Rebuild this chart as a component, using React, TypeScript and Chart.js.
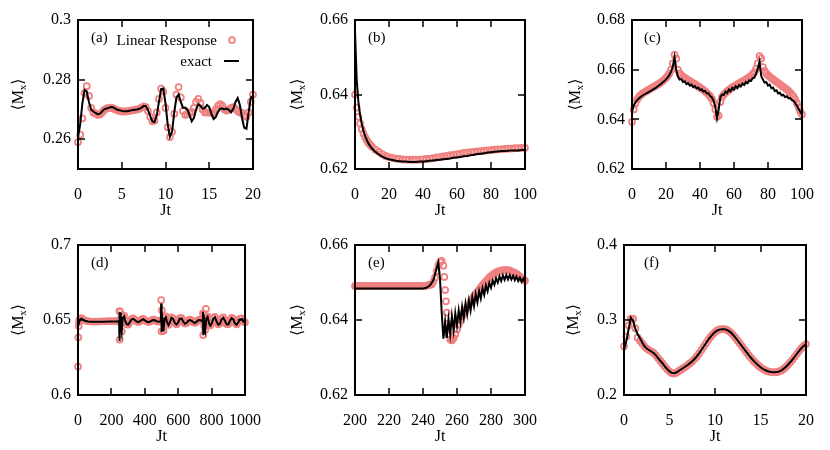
import React, { useEffect, useRef } from "react";
import { Chart, registerables } from "chart.js";
Chart.register(...registerables);

const FONT = "'Liberation Serif', 'Times New Roman', 'DejaVu Serif', serif";
const PINK = "#f08080";

// ---------- shared time grids ----------
const t20 = [
  0, 0.25, 0.5, 0.75, 1, 1.25, 1.5, 1.75, 2, 2.25, 2.5, 2.75, 3, 3.25, 3.5, 3.75,
  4, 4.25, 4.5, 4.75, 5, 5.25, 5.5, 5.75, 6, 6.25, 6.5, 6.75, 7, 7.25, 7.5, 7.75,
  8, 8.25, 8.5, 8.75, 9, 9.25, 9.5, 9.75, 10, 10.25, 10.5, 10.75, 11, 11.25, 11.5, 11.75,
  12, 12.25, 12.5, 12.75, 13, 13.25, 13.5, 13.75, 14, 14.25, 14.5, 14.75, 15, 15.25, 15.5, 15.75,
  16, 16.25, 16.5, 16.75, 17, 17.25, 17.5, 17.75, 18, 18.25, 18.5, 18.75, 19, 19.25, 19.5, 19.75, 20,
];
const t100 = [
  0, 1, 2, 3, 4, 5, 6, 7, 8, 9, 10, 11, 12, 13, 14, 15, 16, 17, 18, 19,
  20, 21, 22, 23, 24, 25, 26, 27, 28, 29, 30, 31, 32, 33, 34, 35, 36, 37, 38, 39,
  40, 41, 42, 43, 44, 45, 46, 47, 48, 49, 50, 51, 52, 53, 54, 55, 56, 57, 58, 59,
  60, 61, 62, 63, 64, 65, 66, 67, 68, 69, 70, 71, 72, 73, 74, 75, 76, 77, 78, 79,
  80, 81, 82, 83, 84, 85, 86, 87, 88, 89, 90, 91, 92, 93, 94, 95, 96, 97, 98, 99, 100,
];

// ---------- panel (a) ----------
const aExact = [
  0.2605, 0.2650, 0.2720, 0.2765, 0.2760, 0.2725, 0.2700, 0.2693,
  0.2688, 0.2684, 0.2685, 0.2693, 0.2700, 0.2703, 0.2705, 0.2708,
  0.2707, 0.2703, 0.2699, 0.2697, 0.2695, 0.2694, 0.2694, 0.2695,
  0.2696, 0.2698, 0.2699, 0.2700, 0.2702, 0.2706, 0.2711, 0.2711,
  0.2698, 0.2678, 0.2660, 0.2658, 0.2680, 0.2725, 0.2768, 0.2770,
  0.2720, 0.2650, 0.2608, 0.2625, 0.2690, 0.2740, 0.2750, 0.2725,
  0.2705, 0.2706, 0.2700, 0.2680, 0.2660, 0.2672, 0.2700, 0.2717,
  0.2712, 0.2702, 0.2705, 0.2715, 0.2708, 0.2685, 0.2668, 0.2675,
  0.2692, 0.2702, 0.2703, 0.2700, 0.2703, 0.2698, 0.2690, 0.2702,
  0.2725, 0.2738, 0.2715, 0.2670, 0.2638, 0.2635, 0.2690, 0.2740,
  0.2745,
];
const aLR = [
  0.2590, 0.2615, 0.2670, 0.2755, 0.2778, 0.2745, 0.2705, 0.2690,
  0.2686, 0.2682, 0.2683, 0.2690, 0.2698, 0.2703, 0.2705, 0.2706,
  0.2704, 0.2700, 0.2697, 0.2695, 0.2693, 0.2693, 0.2693, 0.2694,
  0.2696, 0.2697, 0.2698, 0.2700, 0.2702, 0.2706, 0.2710, 0.2708,
  0.2695, 0.2675, 0.2660, 0.2663, 0.2690, 0.2735, 0.2770, 0.2760,
  0.2705, 0.2640, 0.2607, 0.2625, 0.2685, 0.2750, 0.2775, 0.2740,
  0.2695, 0.2682, 0.2683, 0.2687, 0.2692, 0.2705, 0.2725, 0.2735,
  0.2722, 0.2700, 0.2690, 0.2690, 0.2690, 0.2688, 0.2690, 0.2700,
  0.2712, 0.2718, 0.2712, 0.2700, 0.2696, 0.2700, 0.2705, 0.2708,
  0.2702, 0.2695, 0.2690, 0.2688, 0.2680, 0.2675, 0.2690, 0.2725,
  0.2750,
];
const aXTicks = [0, 5, 10, 15, 20];
const aYTicks = [0.26, 0.28, 0.3];

// ---------- panel (b) ----------
const bT = [
  0, 1, 2, 3, 4, 5, 6, 7, 8, 9, 10,
  12, 14, 16, 18, 20, 22, 24, 26, 28, 30,
  32, 34, 36, 38, 40, 42, 44, 46, 48, 50,
  52, 54, 56, 58, 60, 62, 64, 66, 68, 70,
  72, 74, 76, 78, 80, 82, 84, 86, 88, 90,
  92, 94, 96, 98, 100,
];
const bExact = [
  0.6570, 0.6440, 0.6380, 0.6345, 0.6320, 0.6302, 0.6288, 0.6277, 0.6268, 0.6261, 0.6255,
  0.6246, 0.6239, 0.6233, 0.6229, 0.6226, 0.6224, 0.6222, 0.6221, 0.6220, 0.6220,
  0.6219, 0.6219, 0.6219, 0.6220, 0.6220, 0.6221, 0.6222, 0.6223, 0.6224, 0.6225,
  0.6226, 0.6227, 0.6228, 0.6230, 0.6231, 0.6232, 0.6234, 0.6235, 0.6237, 0.6238,
  0.6240, 0.6241, 0.6242, 0.6244, 0.6245, 0.6246, 0.6247, 0.6248, 0.6248, 0.6249,
  0.6250, 0.6250, 0.6250, 0.6251, 0.6251,
];
const bLR = [
  0.6400, 0.6365, 0.6340, 0.6322, 0.6307, 0.6295, 0.6285, 0.6277, 0.6270, 0.6265, 0.6260,
  0.6252, 0.6246, 0.6240, 0.6235, 0.6232, 0.6230, 0.6228, 0.6227, 0.6226, 0.6225,
  0.6225, 0.6225, 0.6225, 0.6225, 0.6226, 0.6227, 0.6228, 0.6229, 0.6231, 0.6232,
  0.6234, 0.6235, 0.6237, 0.6238, 0.6240, 0.6241, 0.6243, 0.6244, 0.6245, 0.6246,
  0.6247, 0.6248, 0.6249, 0.6250, 0.6251, 0.6252, 0.6253, 0.6253, 0.6254, 0.6255,
  0.6255, 0.6256, 0.6256, 0.6257, 0.6257,
];
const bXTicks = [0, 20, 40, 60, 80, 100];
const bYTicks = [0.62, 0.64, 0.66];

// ---------- panel (c) ----------
const cExact = [
  0.6430, 0.6455, 0.6468, 0.6477, 0.6484, 0.6490, 0.6495, 0.6499, 0.6503, 0.6507,
  0.6511, 0.6515, 0.6519, 0.6523, 0.6527, 0.6532, 0.6537, 0.6542, 0.6548, 0.6554,
  0.6561, 0.6569, 0.6579, 0.6592, 0.6612, 0.6650, 0.6600, 0.6572, 0.6560, 0.6562,
  0.6550, 0.6553, 0.6542, 0.6546, 0.6536, 0.6540, 0.6530, 0.6534, 0.6524, 0.6528,
  0.6518, 0.6521, 0.6512, 0.6514, 0.6504, 0.6505, 0.6494, 0.6488, 0.6475, 0.6450,
  0.6405, 0.6440, 0.6490, 0.6500, 0.6498, 0.6512, 0.6506, 0.6520, 0.6513, 0.6527,
  0.6520, 0.6533, 0.6526, 0.6538, 0.6532, 0.6544, 0.6538, 0.6550, 0.6545, 0.6557,
  0.6554, 0.6566, 0.6568, 0.6585, 0.6605, 0.6632, 0.6575, 0.6560, 0.6548, 0.6550,
  0.6536, 0.6540, 0.6525, 0.6528, 0.6514, 0.6517, 0.6504, 0.6507, 0.6496, 0.6499,
  0.6490, 0.6493, 0.6485, 0.6486, 0.6478, 0.6475, 0.6466, 0.6455, 0.6442, 0.6430,
  0.6420,
];
const cLR = [
  0.6390, 0.6440, 0.6465, 0.6480, 0.6490, 0.6497, 0.6503, 0.6508, 0.6512, 0.6516,
  0.6520, 0.6524, 0.6528, 0.6532, 0.6536, 0.6540, 0.6544, 0.6549, 0.6554, 0.6560,
  0.6567, 0.6575, 0.6585, 0.6600, 0.6625, 0.6660, 0.6645, 0.6600, 0.6585, 0.6578,
  0.6572, 0.6567, 0.6563, 0.6558, 0.6554, 0.6550, 0.6546, 0.6542, 0.6537, 0.6533,
  0.6528, 0.6524, 0.6519, 0.6513, 0.6507, 0.6500, 0.6492, 0.6482, 0.6465, 0.6440,
  0.6410, 0.6415, 0.6470, 0.6490, 0.6500, 0.6507, 0.6513, 0.6519, 0.6524, 0.6529,
  0.6533, 0.6537, 0.6541, 0.6545, 0.6549, 0.6553, 0.6557, 0.6561, 0.6565, 0.6570,
  0.6575, 0.6582, 0.6590, 0.6603, 0.6625, 0.6655, 0.6645, 0.6610, 0.6595, 0.6585,
  0.6578, 0.6572, 0.6566, 0.6561, 0.6556, 0.6551, 0.6546, 0.6541, 0.6536, 0.6531,
  0.6526, 0.6521, 0.6515, 0.6508, 0.6500, 0.6491, 0.6480, 0.6465, 0.6448, 0.6432,
  0.6420,
];
const cXTicks = [0, 20, 40, 60, 80, 100];
const cYTicks = [0.62, 0.64, 0.66, 0.68];

// ---------- panel (d) ----------
const dT = [
  0, 10, 20, 30, 40, 60, 80, 100, 120, 140,
  160, 180, 200, 220, 240, 246, 248, 250, 252, 256,
  262, 268, 276, 284, 292, 300, 310, 320, 330, 340,
  350, 360, 370, 380, 390, 400, 410, 420, 430, 440,
  450, 460, 470, 480, 490, 496, 498, 500, 502, 506,
  512, 518, 526, 534, 542, 552, 560, 570, 580, 590,
  600, 610, 620, 630, 640, 650, 660, 670, 680, 690,
  700, 710, 720, 730, 740, 746, 748, 750, 752, 756,
  762, 768, 776, 784, 792, 800, 810, 820, 830, 840,
  850, 860, 870, 880, 890, 900, 910, 920, 930, 940,
  950, 960, 970, 980, 990, 1000,
];
const dExact = [
  0.6455, 0.6500, 0.6508, 0.6502, 0.6495, 0.6490, 0.6488, 0.6488, 0.6488, 0.6489,
  0.6489, 0.6490, 0.6490, 0.6490, 0.6490, 0.6495, 0.6555, 0.6360, 0.6550, 0.6470,
  0.6420, 0.6515, 0.6525, 0.6490, 0.6470, 0.6468, 0.6485, 0.6503, 0.6508, 0.6500,
  0.6490, 0.6485, 0.6490, 0.6500, 0.6505, 0.6498, 0.6490, 0.6486, 0.6488, 0.6495,
  0.6500, 0.6498, 0.6492, 0.6488, 0.6490, 0.6495, 0.6610, 0.6420, 0.6560, 0.6480,
  0.6425, 0.6510, 0.6520, 0.6480, 0.6465, 0.6490, 0.6515, 0.6508, 0.6480, 0.6470,
  0.6485, 0.6510, 0.6510, 0.6490, 0.6475, 0.6480, 0.6495, 0.6500, 0.6495, 0.6485,
  0.6480, 0.6488, 0.6498, 0.6500, 0.6495, 0.6492, 0.6555, 0.6405, 0.6540, 0.6460,
  0.6430, 0.6510, 0.6522, 0.6480, 0.6462, 0.6475, 0.6508, 0.6518, 0.6490, 0.6468,
  0.6475, 0.6505, 0.6515, 0.6495, 0.6470, 0.6470, 0.6495, 0.6512, 0.6505, 0.6478,
  0.6468, 0.6485, 0.6505, 0.6508, 0.6490, 0.6482,
];
const dLRT = [
  0, 2, 4, 6, 10, 20, 30, 40, 60, 80,
  100, 120, 140, 160, 180, 200, 220, 240, 246, 248,
  250, 252, 256, 262, 268, 276, 284, 292, 300, 310,
  320, 330, 340, 350, 360, 370, 380, 390, 400, 410,
  420, 430, 440, 450, 460, 470, 480, 490, 496, 498,
  500, 502, 506, 512, 518, 526, 534, 542, 552, 560,
  570, 580, 590, 600, 610, 620, 630, 640, 650, 660,
  670, 680, 690, 700, 710, 720, 730, 740, 746, 748,
  750, 752, 756, 762, 766, 770, 776, 784, 792, 800,
  810, 820, 830, 840, 850, 860, 870, 880, 890, 900,
  910, 920, 930, 940, 950, 960, 970, 980, 990, 1000,
];
const dLR = [
  0.6190, 0.6385, 0.6460, 0.6490, 0.6505, 0.6512, 0.6505, 0.6498, 0.6492, 0.6490,
  0.6490, 0.6490, 0.6491, 0.6491, 0.6492, 0.6492, 0.6492, 0.6492, 0.6500, 0.6560,
  0.6370, 0.6555, 0.6480, 0.6425, 0.6520, 0.6530, 0.6495, 0.6472, 0.6470, 0.6488,
  0.6506, 0.6511, 0.6503, 0.6493, 0.6487, 0.6492, 0.6503, 0.6508, 0.6500, 0.6492,
  0.6488, 0.6490, 0.6497, 0.6503, 0.6500, 0.6494, 0.6490, 0.6492, 0.6498, 0.6633,
  0.6425, 0.6565, 0.6483, 0.6428, 0.6515, 0.6524, 0.6483, 0.6468, 0.6493, 0.6518,
  0.6510, 0.6482, 0.6472, 0.6488, 0.6513, 0.6513, 0.6492, 0.6477, 0.6482, 0.6498,
  0.6503, 0.6498, 0.6487, 0.6482, 0.6490, 0.6500, 0.6503, 0.6498, 0.6495, 0.6545,
  0.6400, 0.6535, 0.6462, 0.6435, 0.6575, 0.6515, 0.6525, 0.6483, 0.6465, 0.6478,
  0.6511, 0.6521, 0.6493, 0.6471, 0.6478, 0.6508, 0.6518, 0.6498, 0.6473, 0.6473,
  0.6498, 0.6515, 0.6508, 0.6481, 0.6471, 0.6488, 0.6508, 0.6511, 0.6493, 0.6485,
];
const dXTicks = [0, 200, 400, 600, 800, 1000];
const dYTicks = [0.6, 0.65, 0.7];

// ---------- panel (e) ----------
const eT = [
  200, 205, 210, 215, 220, 225, 230, 235, 240, 242,
  244, 246, 247, 248, 249, 250, 251, 252, 253, 254,
  255, 256, 257, 258, 259, 260, 261, 262, 263, 264,
  265, 266, 267, 268, 269, 270, 271, 272, 273, 274,
  275, 276, 277, 278, 279, 280, 281, 282, 283, 284,
  285, 286, 287, 288, 289, 290, 291, 292, 293, 294,
  295, 296, 297, 298, 299, 300,
];
const eExact = [
  0.6484, 0.6484, 0.6484, 0.6484, 0.6484, 0.6484, 0.6484, 0.6484, 0.6484, 0.6486,
  0.6492, 0.6505, 0.6520, 0.6538, 0.6553, 0.6510, 0.6420, 0.6350, 0.6395, 0.6352,
  0.6402, 0.6362, 0.6410, 0.6372, 0.6418, 0.6385, 0.6426, 0.6395, 0.6435, 0.6406,
  0.6444, 0.6416, 0.6452, 0.6426, 0.6461, 0.6437, 0.6469, 0.6447, 0.6477, 0.6457,
  0.6485, 0.6467, 0.6492, 0.6477, 0.6499, 0.6486, 0.6505, 0.6494, 0.6511, 0.6500,
  0.6516, 0.6504, 0.6519, 0.6507, 0.6520, 0.6508, 0.6520, 0.6508, 0.6518, 0.6506,
  0.6516, 0.6504, 0.6513, 0.6502, 0.6510, 0.6499,
];
const eLRT = [
  200, 201, 202, 203, 204, 205, 206, 207, 208, 209,
  210, 211, 212, 213, 214, 215, 216, 217, 218, 219,
  220, 221, 222, 223, 224, 225, 226, 227, 228, 229,
  230, 231, 232, 233, 234, 235, 236, 237, 238, 239,
  240, 241, 242, 243, 244, 245, 246, 247, 248, 249,
  250, 251, 252, 252.5, 253, 253.5, 254, 254.5, 255, 256,
  257, 258, 259, 260, 261, 262, 263, 264, 265, 266,
  267, 268, 269, 270, 271, 272, 273, 274, 275, 276,
  277, 278, 279, 280, 281, 282, 283, 284, 285, 286,
  287, 288, 289, 290, 291, 292, 293, 294, 295, 296,
  297, 298, 299, 300,
];
const eLR = [
  0.6491, 0.6491, 0.6491, 0.6491, 0.6491, 0.6491, 0.6491, 0.6491, 0.6491, 0.6491,
  0.6491, 0.6491, 0.6491, 0.6491, 0.6491, 0.6491, 0.6491, 0.6491, 0.6491, 0.6491,
  0.6491, 0.6491, 0.6491, 0.6491, 0.6491, 0.6491, 0.6491, 0.6491, 0.6491, 0.6491,
  0.6491, 0.6491, 0.6491, 0.6491, 0.6491, 0.6491, 0.6491, 0.6491, 0.6491, 0.6491,
  0.6491, 0.6491, 0.6492, 0.6493, 0.6494, 0.6495, 0.6502, 0.6513, 0.6530, 0.6546,
  0.6555, 0.6558, 0.6545, 0.6515, 0.6480, 0.6450, 0.6420, 0.6390, 0.6362, 0.6348,
  0.6346, 0.6352, 0.6362, 0.6375, 0.6388, 0.6400, 0.6410, 0.6418, 0.6426, 0.6434,
  0.6441, 0.6449, 0.6456, 0.6463, 0.6469, 0.6475, 0.6481, 0.6487, 0.6493, 0.6498,
  0.6503, 0.6508, 0.6513, 0.6517, 0.6521, 0.6524, 0.6527, 0.6529, 0.6531, 0.6532,
  0.6533, 0.6533, 0.6533, 0.6533, 0.6532, 0.6530, 0.6528, 0.6526, 0.6523, 0.6520,
  0.6516, 0.6512, 0.6508, 0.6505,
];
const eXTicks = [200, 220, 240, 260, 280, 300];
const eYTicks = [0.62, 0.64, 0.66];

// ---------- panel (f) ----------
const fExact = [
  0.2600, 0.2720, 0.2870, 0.3030, 0.2990, 0.2880, 0.2810, 0.2760,
  0.2700, 0.2650, 0.2620, 0.2600, 0.2580, 0.2560, 0.2530, 0.2490,
  0.2455, 0.2420, 0.2380, 0.2345, 0.2315, 0.2295, 0.2290, 0.2300,
  0.2320, 0.2340, 0.2360, 0.2380, 0.2400, 0.2425, 0.2450, 0.2480,
  0.2515, 0.2555, 0.2600, 0.2645, 0.2690, 0.2735, 0.2775, 0.2810,
  0.2840, 0.2860, 0.2872, 0.2878, 0.2878, 0.2870, 0.2855, 0.2832,
  0.2800, 0.2765, 0.2725, 0.2685, 0.2645, 0.2605, 0.2565, 0.2525,
  0.2490, 0.2455, 0.2425, 0.2395, 0.2370, 0.2350, 0.2333, 0.2320,
  0.2310, 0.2305, 0.2303, 0.2305, 0.2312, 0.2325, 0.2345, 0.2370,
  0.2400, 0.2435, 0.2470, 0.2510, 0.2550, 0.2590, 0.2625, 0.2655,
  0.2680,
];
const fLR = [
  0.2650, 0.2780, 0.2930, 0.3020, 0.3015, 0.2890, 0.2765, 0.2725,
  0.2690, 0.2650, 0.2620, 0.2600, 0.2583, 0.2562, 0.2530, 0.2492,
  0.2455, 0.2418, 0.2378, 0.2342, 0.2312, 0.2293, 0.2288, 0.2297,
  0.2317, 0.2338, 0.2358, 0.2378, 0.2399, 0.2424, 0.2450, 0.2480,
  0.2515, 0.2555, 0.2600, 0.2645, 0.2690, 0.2735, 0.2775, 0.2810,
  0.2840, 0.2862, 0.2874, 0.2880, 0.2879, 0.2871, 0.2855, 0.2832,
  0.2800, 0.2765, 0.2725, 0.2685, 0.2645, 0.2605, 0.2565, 0.2525,
  0.2490, 0.2455, 0.2425, 0.2395, 0.2370, 0.2350, 0.2333, 0.2320,
  0.2310, 0.2305, 0.2303, 0.2305, 0.2312, 0.2325, 0.2345, 0.2370,
  0.2400, 0.2435, 0.2470, 0.2510, 0.2550, 0.2590, 0.2625, 0.2655,
  0.2680,
];
const fXTicks = [0, 5, 10, 15, 20];
const fYTicks = [0.2, 0.3, 0.4];

const panelLabels = ["(a)", "(b)", "(c)", "(d)", "(e)", "(f)"];
const legendLabels = ["Linear Response", "exact"];
const xTitle = "Jt";

type Spec = {
  label: string;
  pos: { left: number; top: number; w: number; h: number };
  area: { l: number; r: number; t: number; b: number };
  xr: [number, number];
  yr: [number, number];
  xTicks: number[];
  yTicks: number[];
  exT: number[];
  exV: number[];
  lrT: number[];
  lrV: number[];
  yTitleX: number;
  legend?: boolean;
};

const specs: Spec[] = [
  {
    label: panelLabels[0], pos: { left: 0, top: 0, w: 277, h: 225 },
    area: { l: 78, r: 256, t: 20, b: 169 }, xr: [0, 20], yr: [0.25, 0.3],
    xTicks: aXTicks, yTicks: aYTicks, exT: t20, exV: aExact, lrT: t20, lrV: aLR,
    yTitleX: 18, legend: true,
  },
  {
    label: panelLabels[1], pos: { left: 277, top: 0, w: 276, h: 225 },
    area: { l: 78, r: 254, t: 20, b: 169 }, xr: [0, 100], yr: [0.62, 0.66],
    xTicks: bXTicks, yTicks: bYTicks, exT: bT, exV: bExact, lrT: bT, lrV: bLR,
    yTitleX: 20,
  },
  {
    label: panelLabels[2], pos: { left: 553, top: 0, w: 277, h: 225 },
    area: { l: 79, r: 254, t: 20, b: 169 }, xr: [0, 100], yr: [0.62, 0.68],
    xTicks: cXTicks, yTicks: cYTicks, exT: t100, exV: cExact, lrT: t100, lrV: cLR,
    yTitleX: 22,
  },
  {
    label: panelLabels[3], pos: { left: 0, top: 225, w: 277, h: 225 },
    area: { l: 78, r: 255, t: 20, b: 170 }, xr: [0, 1000], yr: [0.6, 0.7],
    xTicks: dXTicks, yTicks: dYTicks, exT: dT, exV: dExact, lrT: dLRT, lrV: dLR,
    yTitleX: 18,
  },
  {
    label: panelLabels[4], pos: { left: 277, top: 225, w: 276, h: 225 },
    area: { l: 78, r: 254, t: 20, b: 170 }, xr: [200, 300], yr: [0.62, 0.66],
    xTicks: eXTicks, yTicks: eYTicks, exT: eT, exV: eExact, lrT: eLRT, lrV: eLR,
    yTitleX: 20,
  },
  {
    label: panelLabels[5], pos: { left: 553, top: 225, w: 277, h: 225 },
    area: { l: 71, r: 255, t: 20, b: 170 }, xr: [0, 20], yr: [0.2, 0.4],
    xTicks: fXTicks, yTicks: fYTicks, exT: t20, exV: fExact, lrT: t20, lrV: fLR,
    yTitleX: 20,
  },
];

const fmt = (v: number) => String(Number(Number(v).toFixed(4)));

function makeDecor(spec: Spec) {
  return {
    id: "decor",
    afterDraw(chart: any) {
      const { ctx, chartArea: ca, scales } = chart;
      const xs = scales.x;
      const ys = scales.y;
      ctx.save();
      ctx.strokeStyle = "#000";
      ctx.lineWidth = 1.5;
      const TL = 7;
      ctx.beginPath();
      spec.xTicks.forEach((v) => {
        const px = Math.round(xs.getPixelForValue(v));
        ctx.moveTo(px, ca.bottom);
        ctx.lineTo(px, ca.bottom - TL);
        ctx.moveTo(px, ca.top);
        ctx.lineTo(px, ca.top + TL);
      });
      spec.yTicks.forEach((v) => {
        const py = Math.round(ys.getPixelForValue(v));
        ctx.moveTo(ca.left, py);
        ctx.lineTo(ca.left + TL, py);
        ctx.moveTo(ca.right, py);
        ctx.lineTo(ca.right - TL, py);
      });
      ctx.stroke();
      ctx.lineWidth = 2;
      ctx.strokeRect(ca.left, ca.top, ca.right - ca.left, ca.bottom - ca.top);

      ctx.fillStyle = "#000";
      // panel label
      ctx.font = `15px ${FONT}`;
      ctx.textAlign = "left";
      ctx.textBaseline = "alphabetic";
      ctx.fillText(spec.label, 91, 42);

      // x title
      ctx.font = `16px ${FONT}`;
      ctx.textAlign = "center";
      ctx.textBaseline = "middle";
      ctx.fillText(xTitle, (ca.left + ca.right) / 2, ca.bottom + 42);

      // y title  <M_x>
      ctx.save();
      ctx.translate(spec.yTitleX, (ca.top + ca.bottom) / 2);
      ctx.rotate(-Math.PI / 2);
      const big = `16px ${FONT}`;
      const small = `11px ${FONT}`;
      ctx.font = big;
      const w1 = ctx.measureText("\u27E8M").width;
      ctx.font = small;
      const w2 = ctx.measureText("x").width;
      ctx.font = big;
      const w3 = ctx.measureText("\u27E9").width;
      const x0 = -(w1 + w2 + w3) / 2;
      ctx.textAlign = "left";
      ctx.textBaseline = "alphabetic";
      ctx.fillText("\u27E8M", x0, 5);
      ctx.font = small;
      ctx.fillText("x", x0 + w1, 8);
      ctx.font = big;
      ctx.fillText("\u27E9", x0 + w1 + w2, 5);
      ctx.restore();

      if (spec.legend) {
        ctx.font = `15px ${FONT}`;
        ctx.textAlign = "right";
        ctx.textBaseline = "alphabetic";
        ctx.fillText(legendLabels[0], 217, 45);
        ctx.fillText(legendLabels[1], 212, 66);
        ctx.strokeStyle = PINK;
        ctx.lineWidth = 1.75;
        ctx.beginPath();
        ctx.arc(232, 40, 3, 0, Math.PI * 2);
        ctx.stroke();
        ctx.strokeStyle = "#000";
        ctx.lineWidth = 2;
        ctx.beginPath();
        ctx.moveTo(224, 61);
        ctx.lineTo(239, 61);
        ctx.stroke();
      }
      ctx.restore();
    },
  };
}

function Panel({ spec }: { spec: Spec }) {
  const ref = useRef<HTMLCanvasElement | null>(null);
  useEffect(() => {
    const canvas = ref.current;
    if (!canvas) return;
    const { w, h } = spec.pos;
    const a = spec.area;
    const tickFont = { family: FONT, size: 16 };
    const chart = new Chart(canvas, {
      type: "scatter",
      data: {
        datasets: [
          {
            label: legendLabels[1],
            data: spec.exT.map((t, i) => ({ x: t, y: spec.exV[i] })),
            showLine: true,
            borderColor: "#000",
            borderWidth: 2,
            pointRadius: 0,
            tension: 0,
            order: 0,
          },
          {
            label: legendLabels[0],
            data: spec.lrT.map((t, i) => ({ x: t, y: spec.lrV[i] })),
            showLine: false,
            pointRadius: 3,
            pointBorderColor: PINK,
            pointBackgroundColor: "rgba(0,0,0,0)",
            pointBorderWidth: 1.75,
            order: 1,
            clip: false,
          },
        ],
      },
      options: {
        animation: false,
        responsive: false,
        devicePixelRatio: 1,
        events: [],
        layout: { padding: { left: 0, top: a.t, right: w - a.r, bottom: 0 } },
        plugins: { legend: { display: false }, tooltip: { enabled: false } },
        scales: {
          x: {
            type: "linear",
            min: spec.xr[0],
            max: spec.xr[1],
            grid: { display: false, drawTicks: false },
            border: { display: false },
            afterBuildTicks: (s: any) => {
              s.ticks = spec.xTicks.map((v) => ({ value: v }));
            },
            afterFit: (s: any) => {
              s.height = h - a.b;
            },
            ticks: {
              font: tickFont,
              color: "#000",
              padding: 16,
              maxRotation: 0,
              autoSkip: false,
              callback: (v: any) => fmt(v),
            },
          },
          y: {
            type: "linear",
            min: spec.yr[0],
            max: spec.yr[1],
            grid: { display: false, drawTicks: false },
            border: { display: false },
            afterBuildTicks: (s: any) => {
              s.ticks = spec.yTicks.map((v) => ({ value: v }));
            },
            afterFit: (s: any) => {
              s.width = a.l;
            },
            ticks: {
              font: tickFont,
              color: "#000",
              padding: 7,
              autoSkip: false,
              callback: (v: any) => fmt(v),
            },
          },
        },
      },
      plugins: [makeDecor(spec)],
    } as any);
    return () => chart.destroy();
  }, [spec]);
  return (
    <canvas
      ref={ref}
      width={spec.pos.w}
      height={spec.pos.h}
      style={{
        position: "absolute",
        left: spec.pos.left,
        top: spec.pos.top,
        width: spec.pos.w,
        height: spec.pos.h,
      }}
    />
  );
}

export default function App() {
  return (
    <div
      style={{
        position: "fixed",
        left: 0,
        top: 0,
        width: 830,
        height: 450,
        background: "#fff",
        overflow: "hidden",
      }}
    >
      {specs.map((s) => (
        <Panel key={s.label} spec={s} />
      ))}
    </div>
  );
}
